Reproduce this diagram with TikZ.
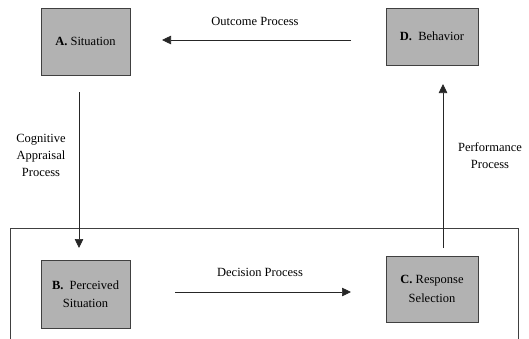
\documentclass[tikz,border=0pt]{standalone}
\usepackage{fontspec}
\setmainfont{Liberation Serif}
\usetikzlibrary{arrows.meta}
\begin{document}
\begin{tikzpicture}[x=1pt,y=-1pt,
  box/.style={draw=black!75, fill=black!30, line width=0.8pt, align=center, inner sep=0pt, font=\fontsize{12.5}{18.5}\selectfont},
  lbl/.style={align=center, inner sep=0pt, font=\fontsize{12.5}{17}\selectfont},
  conn/.style={draw=black!85, line width=0.7pt, -{Triangle[length=9pt,width=8.5pt]}}]
\useasboundingbox (0,0) rectangle (529,338);
\draw[draw=black!75, line width=0.8pt] (10,340) -- (10,228) -- (518,228) -- (518,340);
\node[box, minimum width=89pt, minimum height=67pt] (A) at (85.5,41.5) {\textbf{A.}\ Situation};
\node[box, minimum width=92pt, minimum height=57pt] (D) at (432,36.5) {\textbf{D.}\ \ Behavior};
\node[box, minimum width=89pt, minimum height=68pt] (B) at (85.5,294) {\textbf{B.}\ \ Perceived\\Situation};
\node[box, minimum width=92pt, minimum height=66pt] (C) at (432,289) {\textbf{C.} Response\\Selection};
\coordinate (o1) at (351,40); \coordinate (o2) at (162,40);
\coordinate (c1) at (79,92); \coordinate (c2) at (79,248);
\coordinate (p1) at (443,248); \coordinate (p2) at (443,84);
\coordinate (d1) at (175,292); \coordinate (d2) at (351,292);
\draw[conn] (o1) -- (o2);
\draw[conn] (c1) -- (c2);
\draw[conn] (p1) -- (p2);
\draw[conn] (d1) -- (d2);
\node[lbl] (lo) at (255,21) {Outcome Process};
\node[lbl] (ld) at (260,272) {Decision Process};
\node[lbl] (lc) at (41,155) {Cognitive\\Appraisal\\Process};
\node[lbl] (lp) at (490,156) {Performance\\Process};
\end{tikzpicture}
\end{document}
